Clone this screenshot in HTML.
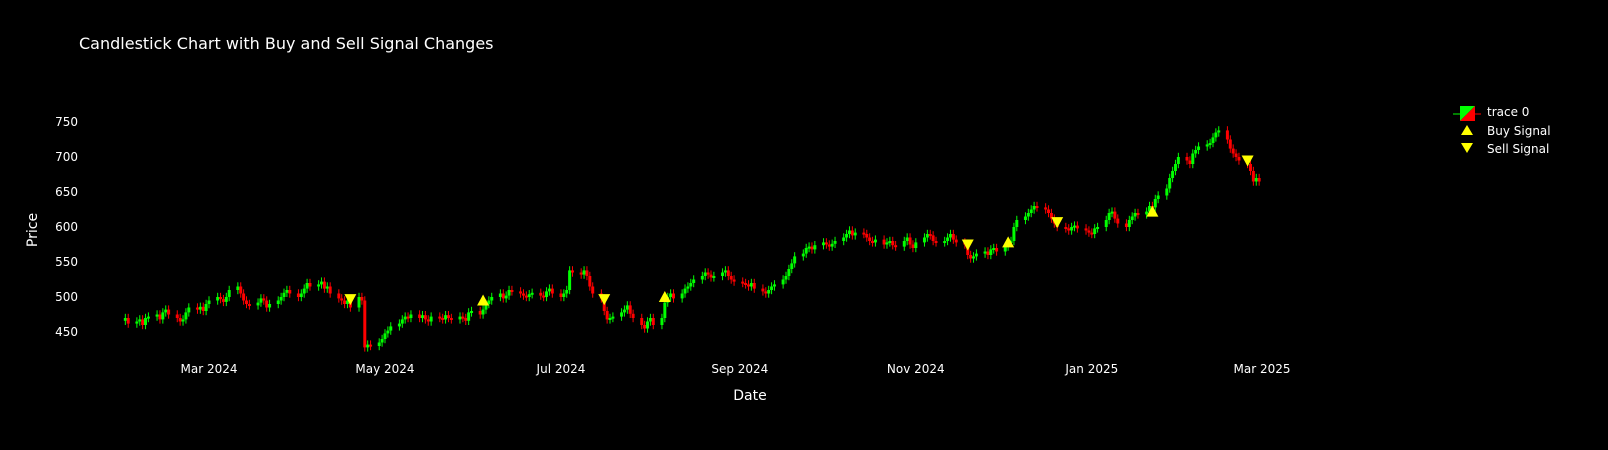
<!DOCTYPE html>
<html><head><meta charset="utf-8">
<style>
html,body{margin:0;padding:0;background:#000;}
svg{display:block;font-family:"DejaVu Sans","Liberation Sans",sans-serif;}
</style></head>
<body>
<svg id="chart" width="1608" height="450" viewBox="0 0 1608 450">
<rect width="1608" height="450" fill="#000"/>
<text x="79" y="49" fill="#fff" font-size="16">Candlestick Chart with Buy and Sell Signal Changes</text>
<text x="750" y="400" fill="#fff" font-size="14" text-anchor="middle">Date</text>
<text transform="translate(37,230) rotate(-90)" fill="#fff" font-size="14" text-anchor="middle">Price</text>
<g id="yticks"></g>
<g id="xticks"></g>
<g id="candles"></g>
<g id="signals"></g>
<g>
  <g>
    <line x1="1453" y1="114" x2="1481" y2="114" stroke="#00ff00" stroke-width="1"/>
    <line x1="1467" y1="114" x2="1481" y2="114" stroke="#ff0000" stroke-width="1"/>
    <polygon points="1460,106 1475,106 1460,121" fill="#00ff00"/>
    <polygon points="1475,106 1475,121 1460,121" fill="#ff0000"/>
    <text x="1487" y="116" fill="#fff" font-size="12">trace 0</text>
  </g>
  <g>
    <polygon points="1467,125 1473,135 1461,135" fill="#ffff00"/>
    <text x="1487" y="135" fill="#fff" font-size="12">Buy Signal</text>
  </g>
  <g>
    <polygon points="1461,143 1473,143 1467,153" fill="#ffff00"/>
    <text x="1487" y="153" fill="#fff" font-size="12">Sell Signal</text>
  </g>
</g>
</svg>
<script>
const startDate = "2024-02-01";
const closes = [
470,462,
465,468,460,470,472,
475,468,478,482,475,
470,465,468,478,485,
482,486,480,490,495,
500,497,493,500,510,
515,505,495,490,488,
492,498,495,485,490,
495,500,506,510,505,
500,505,512,520,515,
518,522,512,515,505,
498,495,490,495,485,
500,495,428,432,430,
435,440,448,452,458,
462,468,472,470,475,
470,474,468,465,472,
470,468,474,470,468,
472,470,466,478,480,
475,482,490,495,500,
505,498,502,510,508,
505,502,500,504,506,
502,500,508,512,505,
500,505,510,538,535,
532,538,530,515,505,
498,480,468,470,472,
478,482,488,476,470,
460,455,465,470,460,
470,492,500,505,498,
505,512,515,520,525,
530,535,532,528,530,
535,538,530,525,522,
520,518,515,520,512,
508,505,510,515,518,
525,530,540,548,558,
562,570,572,568,574,
578,575,572,576,580,
585,590,595,588,592,
590,585,580,578,582,
575,578,580,574,572,
580,585,575,570,578,
585,590,588,580,578,
580,585,590,582,578,
575,560,555,558,562,
565,560,568,570,565,
572,578,580,600,610,
615,620,625,630,628,
625,620,612,605,600,
598,595,600,602,598,
595,592,590,598,600,
610,620,622,612,605,
600,610,615,620,618,
622,630,628,640,645,
655,670,680,690,700,
695,690,705,710,715,
718,720,728,735,738,
725,712,705,700,695,
690,680,665,670,665
];
const buyDates = ["2024-06-04","2024-08-06","2024-12-03","2025-01-22"];
const buyPrices = [495,500,578,622];
const sellDates = ["2024-04-19","2024-07-16","2024-11-19","2024-12-20","2025-02-24"];
const sellPrices = [497,497,575,607,695];
const yTicks = [450,500,550,600,650,700,750];
const xTickLabels = ["Mar 2024","May 2024","Jul 2024","Sep 2024","Nov 2024","Jan 2025","Mar 2025"];
const xTickDates = ["2024-03-01","2024-05-01","2024-07-01","2024-09-01","2024-11-01","2025-01-01","2025-03-01"];

const NS="http://www.w3.org/2000/svg";
const DAY=86400000;
const t0=Date.UTC(2024,2,1);
function xScale(d){const t=(typeof d==="string")?Date.parse(d+"T00:00:00Z"):d;return 209+(t-t0)/DAY*2.885;}
function yScale(v){return 122+(750-v)*0.7;}
function mk(tag,attrs,parent){const e=document.createElementNS(NS,tag);for(const k in attrs)e.setAttribute(k,attrs[k]);parent.appendChild(e);return e;}

const yg=document.getElementById("yticks");
yTicks.forEach(v=>{
  const t=mk("text",{x:78,y:yScale(v)+4,fill:"#fff","font-size":12,"text-anchor":"end"},yg);
  t.textContent=v;
  
  
});
const xg=document.getElementById("xticks");
xTickLabels.forEach((lab,i)=>{
  const t=mk("text",{x:xScale(xTickDates[i]),y:373,fill:"#fff","font-size":12,"text-anchor":"middle"},xg);
  t.textContent=lab;
  
  
});

const dates=[];
let t=Date.parse(startDate+"T00:00:00Z");
while(dates.length<closes.length){const wd=new Date(t).getUTCDay();if(wd!==0&&wd!==6)dates.push(t);t+=DAY;}

const cg=document.getElementById("candles");
closes.forEach((c,i)=>{
  const o=i===0?c-4:closes[i-1];
  const hi=Math.max(o,c)+6, lo=Math.min(o,c)-6;
  const up=c>=o;
  const col=up?"#00ff00":"#ff0000";
  const x=xScale(dates[i]);
  const g=mk("g",{},cg);
  
  
  mk("line",{x1:x,x2:x,y1:yScale(hi),y2:yScale(lo),stroke:col,"stroke-width":1},g);
  const top=yScale(Math.max(o,c)),bot=yScale(Math.min(o,c));
  mk("rect",{x:x-1.5,y:top,width:3,height:Math.max(2,bot-top),fill:col},g);
});

const sg=document.getElementById("signals");
buyDates.forEach((d,i)=>{
  const x=xScale(d),y=yScale(buyPrices[i]);
  const p=mk("polygon",{points:`${x},${y-6} ${x+6},${y+5} ${x-6},${y+5}`,fill:"#ffff00"},sg);
  
  
});
sellDates.forEach((d,i)=>{
  const x=xScale(d),y=yScale(sellPrices[i]);
  const p=mk("polygon",{points:`${x-6},${y-5} ${x+6},${y-5} ${x},${y+6}`,fill:"#ffff00"},sg);
  
  
});
</script>
</body></html>
